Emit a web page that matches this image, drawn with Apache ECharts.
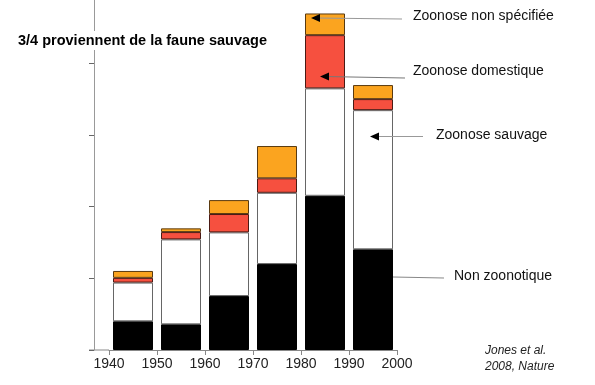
<!DOCTYPE html>
<html><head><meta charset="utf-8">
<script src="https://cdn.jsdelivr.net/npm/echarts@6/dist/echarts.min.js"></script>
<style>html,body{margin:0;padding:0;background:#fff}#c{width:595px;height:385px}</style>
</head><body><div id="c"></div>
<script>
const decades = ['1940s', '1950s', '1960s', '1970s', '1980s', '1990s'];
const tickYears = [1940, 1950, 1960, 1970, 1980, 1990, 2000];
const yTicks = [0, 50, 100, 150, 200];
const nonZoonotique = [20, 17.9, 37.6, 59.9, 107.5, 70.2];
const zoonoseSauvage = [27, 59.2, 44.4, 49.7, 74.9, 97];
const zoonoseDomestique = [3.3, 5.1, 12.8, 10.1, 37.1, 7.7];
const zoonoseNonSpecifiee = [4.8, 2.6, 9.7, 22.5, 15.1, 9.8];
const labels = ['Non zoonotique', 'Zoonose sauvage', 'Zoonose domestique', 'Zoonose non spécifiée'];

const font = 'Liberation Sans, Arial, sans-serif';

function barSeries(name, data, color, border) {
  return {
    name, type: 'bar', stack: 'total', barWidth: 40, xAxisIndex: 0,
    data: data,
    itemStyle: { color: color, borderColor: border, borderWidth: 1 },
    emphasis: { disabled: true }, silent: true
  };
}

const chart = echarts.init(document.getElementById('c'), null, { renderer: 'canvas' });
chart.setOption({
  animation: false,
  backgroundColor: '#fff',
  grid: { left: 109, right: 198, bottom: 35, top: 0 },
  xAxis: [{
    type: 'category', data: decades, boundaryGap: true, show: false
  }, {
    type: 'value', min: tickYears[0], max: tickYears[tickYears.length - 1], interval: 10,
    position: 'bottom',
    axisLine: { show: true, onZero: false, lineStyle: { color: '#888', width: 1 } },
    axisTick: { show: true, length: 5, lineStyle: { color: '#888' } },
    splitLine: { show: false },
    axisLabel: { color: '#222', fontSize: 14, fontFamily: font, margin: 7,
      formatter: v => tickYears.includes(v) ? String(v) : '' }
  }],
  yAxis: {
    type: 'value', min: 0, max: 244, interval: 50, offset: 15,
    axisLine: { show: true, lineStyle: { color: '#999', width: 1 } },
    axisTick: { show: true, length: 5, customValues: yTicks, lineStyle: { color: '#666' } },
    splitLine: { show: false },
    axisLabel: { show: false }
  },
  series: [
    barSeries(labels[0], nonZoonotique, '#000000', '#000000'),
    barSeries(labels[1], zoonoseSauvage, '#ffffff', '#666666'),
    barSeries(labels[2], zoonoseDomestique, '#F6503F', '#4a1a14'),
    barSeries(labels[3], zoonoseNonSpecifiee, '#FBA41F', '#5a3a10')
  ],
  graphic: [
    { type: 'line', shape: { x1: 89, y1: 350, x2: 109, y2: 350 }, style: { stroke: '#888', lineWidth: 1 }, silent: true },
    { type: 'text', left: 15, top: 31, z: 100,
      style: { text: '3/4 proviennent de la faune sauvage', font: 'bold 14.5px ' + font, fill: '#000', backgroundColor: '#fff', padding: [2, 3] } },
    { type: 'line', shape: { x1: 316, y1: 18, x2: 402, y2: 19 }, style: { stroke: '#999', lineWidth: 1.2 }, z: 50 },
    { type: 'polygon', shape: { points: [[311, 18], [320, 14], [320, 22]] }, style: { fill: '#000' }, z: 51 },
    { type: 'line', shape: { x1: 325, y1: 76.5, x2: 405, y2: 78 }, style: { stroke: '#777', lineWidth: 1.2 }, z: 50 },
    { type: 'polygon', shape: { points: [[320, 76.5], [329, 72.5], [329, 80.5]] }, style: { fill: '#000' }, z: 51 },
    { type: 'line', shape: { x1: 375, y1: 136.5, x2: 423, y2: 136.5 }, style: { stroke: '#999', lineWidth: 1.2 }, z: 50 },
    { type: 'polygon', shape: { points: [[370, 136.5], [379, 132.5], [379, 140.5]] }, style: { fill: '#000' }, z: 51 },
    { type: 'line', shape: { x1: 393, y1: 277, x2: 444, y2: 278 }, style: { stroke: '#888', lineWidth: 1.2 }, z: 50 },
    { type: 'text', left: 413, top: 9, style: { text: labels[3], font: '14px ' + font, fill: '#111' } },
    { type: 'text', left: 413, top: 64, style: { text: labels[2], font: '14px ' + font, fill: '#111' } },
    { type: 'text', left: 436, top: 128, style: { text: labels[1], font: '14px ' + font, fill: '#111' } },
    { type: 'text', left: 454, top: 269, style: { text: labels[0], font: '14px ' + font, fill: '#111' } },
    { type: 'text', left: 485, top: 343, style: { text: 'Jones et al.\n2008, Nature', font: 'italic 12px ' + font, fill: '#222', lineHeight: 16 } }
  ]
});
</script></body></html>
